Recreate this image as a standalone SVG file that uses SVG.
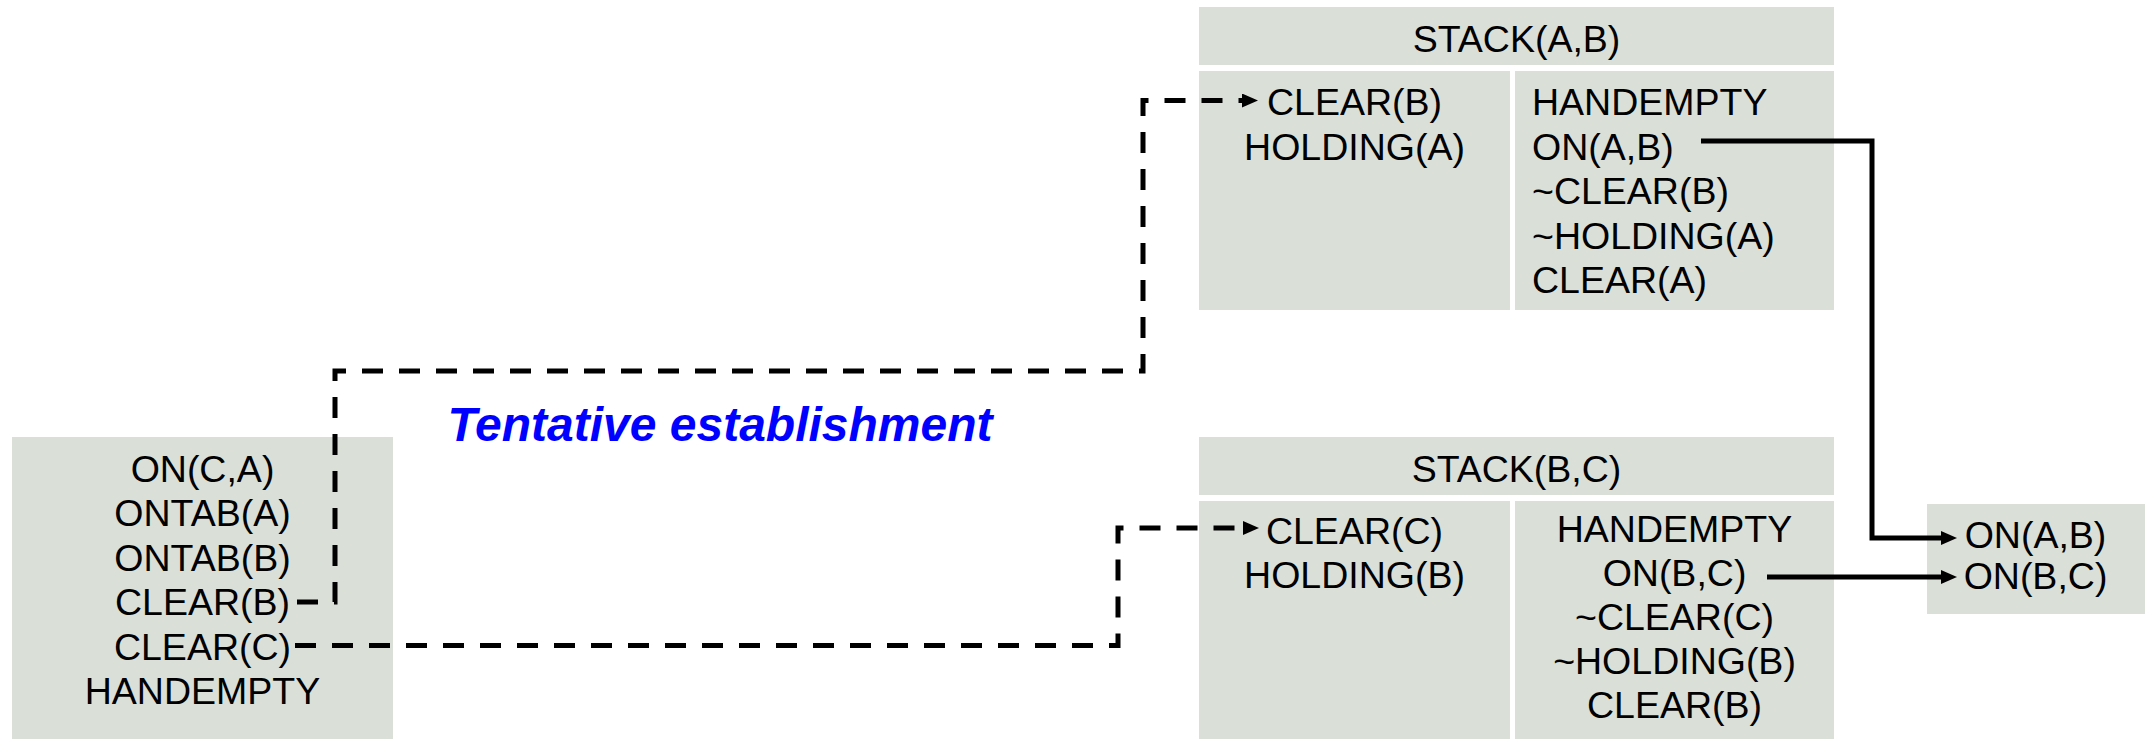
<svg xmlns="http://www.w3.org/2000/svg" width="2154" height="739" viewBox="0 0 2154 739">
  <style>
    .box { fill: #DADFD8; }
    .t { font-family: "Liberation Sans", Arial, sans-serif; font-size: 37.5px; fill: #000; }
    .c { text-anchor: middle; }
    .label { font-family: "Liberation Sans", Arial, sans-serif; font-size: 48px; font-weight: bold; font-style: italic; fill: #0000FF; text-anchor: middle; }
    .link { fill: none; stroke: #000; stroke-width: 5; }
    .dash { stroke-dasharray: 21 16; }
  </style>
  <defs>
    <marker id="arrow" markerUnits="userSpaceOnUse" viewBox="0 0 16 14" refX="2" refY="7" markerWidth="16" markerHeight="14" orient="auto">
      <path d="M0,0 L16,7 L0,14 z" fill="#000"/>
    </marker>
  </defs>

  <rect width="2154" height="739" fill="#FFFFFF"/>

  <!-- initial state -->
  <g id="initial-state">
    <rect class="box" x="12" y="437" width="381" height="302"/>
    <text class="t c" x="202.5" y="481.5">ON(C,A)</text>
    <text class="t c" x="202.5" y="526">ONTAB(A)</text>
    <text class="t c" x="202.5" y="570.5">ONTAB(B)</text>
    <text class="t c" x="202.5" y="615">CLEAR(B)</text>
    <text class="t c" x="202.5" y="659.5">CLEAR(C)</text>
    <text class="t c" x="202.5" y="704">HANDEMPTY</text>
  </g>

  <!-- operator STACK(A,B) -->
  <g id="stack-a-b">
    <rect class="box" x="1199" y="7" width="635" height="58"/>
    <rect class="box" x="1199" y="71" width="311" height="239"/>
    <rect class="box" x="1515" y="71" width="319" height="239"/>
    <text class="t c" x="1516.5" y="52">STACK(A,B)</text>
    <text class="t c" x="1354.5" y="115">CLEAR(B)</text>
    <text class="t c" x="1354.5" y="159.5">HOLDING(A)</text>
    <text class="t" x="1532" y="115">HANDEMPTY</text>
    <text class="t" x="1532" y="159.5">ON(A,B)</text>
    <text class="t" x="1532" y="204">~CLEAR(B)</text>
    <text class="t" x="1532" y="248.5">~HOLDING(A)</text>
    <text class="t" x="1532" y="293">CLEAR(A)</text>
  </g>

  <!-- operator STACK(B,C) -->
  <g id="stack-b-c">
    <rect class="box" x="1199" y="437" width="635" height="58"/>
    <rect class="box" x="1199" y="501" width="311" height="238"/>
    <rect class="box" x="1515" y="501" width="319" height="238"/>
    <text class="t c" x="1516.5" y="482">STACK(B,C)</text>
    <text class="t c" x="1354.5" y="543.5">CLEAR(C)</text>
    <text class="t c" x="1354.5" y="588">HOLDING(B)</text>
    <text class="t c" x="1674.5" y="542">HANDEMPTY</text>
    <text class="t c" x="1674.5" y="586">ON(B,C)</text>
    <text class="t c" x="1674.5" y="630">~CLEAR(C)</text>
    <text class="t c" x="1674.5" y="674">~HOLDING(B)</text>
    <text class="t c" x="1674.5" y="718">CLEAR(B)</text>
  </g>

  <!-- goal -->
  <g id="goal">
    <rect class="box" x="1927" y="504" width="218" height="110"/>
    <text class="t c" x="2035.5" y="548">ON(A,B)</text>
    <text class="t c" x="2035.5" y="589">ON(B,C)</text>
  </g>

  <text id="caption" class="label" x="720" y="441">Tentative establishment</text>

  <!-- connectors -->
  <g id="connectors">
    <path class="link dash" d="M297,602 H335 V371 H1143 V100.5 H1244" marker-end="url(#arrow)"/>
    <path class="link dash" d="M295,645.5 H1118 V528 H1245" marker-end="url(#arrow)"/>
    <path class="link" d="M1701,141 H1872 V538 H1943" marker-end="url(#arrow)"/>
    <path class="link" d="M1767,577 H1943" marker-end="url(#arrow)"/>
  </g>
</svg>
